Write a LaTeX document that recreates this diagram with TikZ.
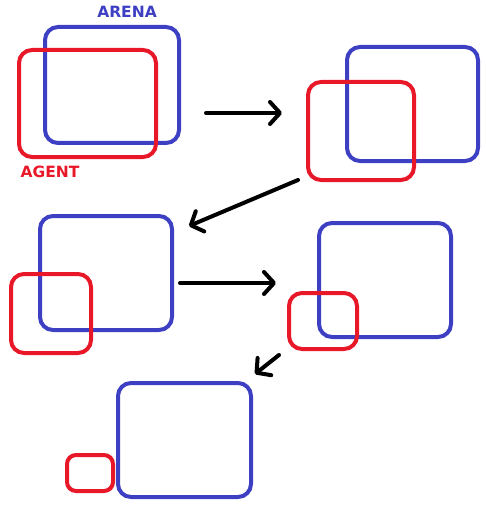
\documentclass[tikz,border=0pt]{standalone}
\usepackage{fontspec}
\setmainfont{DejaVu Sans}
\usetikzlibrary{arrows.meta}
\definecolor{arenablue}{RGB}{62,64,196}
\definecolor{agentred}{RGB}{232,24,40}
\tikzset{
  arena/.style={draw=arenablue, line width=4pt, rounded corners=13pt},
  agent/.style={draw=agentred, line width=4pt, rounded corners=13pt},
  move/.style={draw=black, line width=4pt, line cap=round, -{Straight Barb[length=10pt,width=22pt,line width=4pt,round]}},
  lbl/.style={font=\bfseries\fontsize{15.5}{17}\selectfont, inner sep=0pt}
}
\begin{document}
\begin{tikzpicture}[x=1pt,y=-1pt]
\useasboundingbox (0,0) rectangle (486,505);
% step 1
\draw[arena] (45,27) rectangle (179,143);
\draw[agent] (19,50) rectangle (156,157);
\node[lbl, text=arenablue] (arenalbl) at (127,12) {ARENA};
\node[lbl, text=agentred] (agentlbl) at (50,172) {AGENT};
% step 2
\draw[arena] (347,47) rectangle (478,161);
\draw[agent] (308,82) rectangle (414,180);
% step 3
\draw[arena] (40,216) rectangle (172,330);
\draw[agent] (11,274) rectangle (91,353);
% step 4
\draw[arena] (319,223) rectangle (451,337);
\draw[agent] (289,293) rectangle (357,349);
% step 5
\draw[arena] (118,383) rectangle (251,497);
\draw[agent, rounded corners=9pt] (67,455) rectangle (113,491);
% arrows
\coordinate (a1s) at (206,113); \coordinate (a1e) at (282,113);
\coordinate (a2s) at (298,180); \coordinate (a2e) at (189,226);
\coordinate (a3s) at (180,283); \coordinate (a3e) at (276,283);
\coordinate (a4s) at (279,355); \coordinate (a4e) at (255,374);
\draw[move] (a1s) -- (a1e);
\draw[move] (a2s) -- (a2e);
\draw[move] (a3s) -- (a3e);
\draw[move] (a4s) -- (a4e);
\end{tikzpicture}
\end{document}
